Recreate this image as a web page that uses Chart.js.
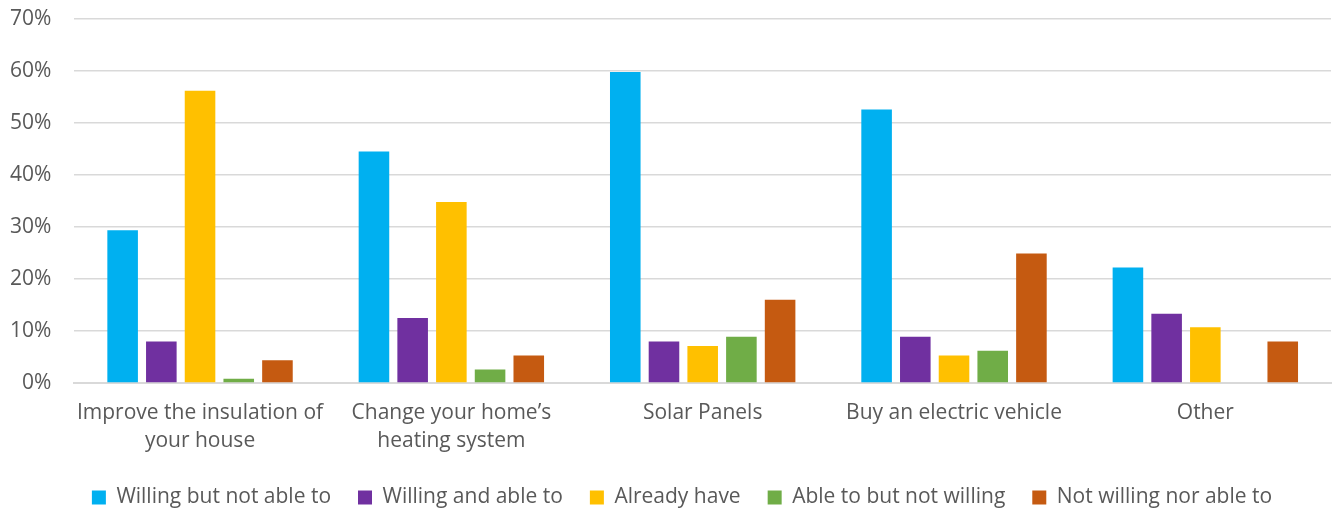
<!DOCTYPE html>
<html>
<head>
<meta charset="utf-8">
<script src="https://cdn.jsdelivr.net/npm/chart.js@4.4.1/dist/chart.umd.min.js"></script>
<style>
  html, body { margin: 0; padding: 0; background: #fff; }
  #wrap { width: 1335px; height: 511px; }
</style>
</head>
<body>
<div id="wrap"><canvas id="barChart" width="1335" height="511"></canvas></div>
<script>
const categories = [
  ['Improve the insulation of', 'your house'],
  ['Change your home\u2019s', 'heating system'],
  'Solar Panels',
  'Buy an electric vehicle',
  'Other'
];
const seriesNames = ['Willing but not able to', 'Willing and able to', 'Already have', 'Able to but not willing', 'Not willing nor able to'];
const willingNotAble = [29.4, 44.5, 59.8, 52.6, 22.2];
const willingAndAble = [8.0, 12.5, 8.0, 8.9, 13.3];
const alreadyHave = [56.2, 34.8, 7.1, 5.3, 10.7];
const ableNotWilling = [0.8, 2.6, 8.9, 6.2, 0];
const notWillingNorAble = [4.4, 5.3, 16.0, 24.9, 8.0];
const colors = ['#00B0F0', '#7030A0', '#FFC000', '#70AD47', '#C55A11'];

const allSeries = [willingNotAble, willingAndAble, alreadyHave, ableNotWilling, notWillingNorAble];
const textColor = '#595959';
const fontFamily = '"Open Sans", "Liberation Sans", sans-serif';

// legend padding is used both between items and above/below the row;
// take some height back so the plot gets it, then nudge the legend up
const legendSpace = {
  id: 'legendSpace',
  beforeInit(chart) {
    const legend = chart.legend;
    const fit = legend.fit;
    legend.fit = function () {
      fit.call(this);
      this.height -= 18;
    };
  },
  afterLayout(chart) {
    const lg = chart.legend;
    lg.top -= 11;
    lg.bottom = chart.height;
    lg.left += 13;
    lg.right += 13;
  }
};

const ctx = document.getElementById('barChart').getContext('2d');
new Chart(ctx, {
  type: 'bar',
  data: {
    labels: categories,
    datasets: allSeries.map((vals, i) => ({
      label: seriesNames[i],
      data: vals,
      backgroundColor: colors[i],
      borderWidth: 0,
      categoryPercentage: 0.77,
      barPercentage: 0.79
    }))
  },
  options: {
    responsive: false,
    animation: false,
    layout: { padding: { top: 19, right: 4, left: 7, bottom: 0 } },
    plugins: {
      tooltip: { enabled: false },
      legend: {
        position: 'bottom',
        labels: {
          color: textColor,
          font: { family: fontFamily, size: 21 },
          boxWidth: 14,
          boxHeight: 14,
          padding: 27
        }
      }
    },
    scales: {
      x: {
        grid: { display: false, drawTicks: false },
        border: { color: '#d9d9d9', width: 2 },
        ticks: {
          color: textColor,
          font: { family: fontFamily, size: 21, lineHeight: 1.333 },
          maxRotation: 0,
          padding: 16
        }
      },
      y: {
        min: 0,
        max: 70,
        grid: { color: '#d9d9d9', lineWidth: 1.5, drawTicks: true, tickLength: 20, tickColor: 'rgba(0,0,0,0)' },
        border: { display: false },
        ticks: {
          stepSize: 10,
          color: textColor,
          font: { family: fontFamily, size: 21 },
          padding: 3,
          callback: v => v + '%'
        }
      }
    }
  },
  plugins: [legendSpace]
});
</script>
</body>
</html>
